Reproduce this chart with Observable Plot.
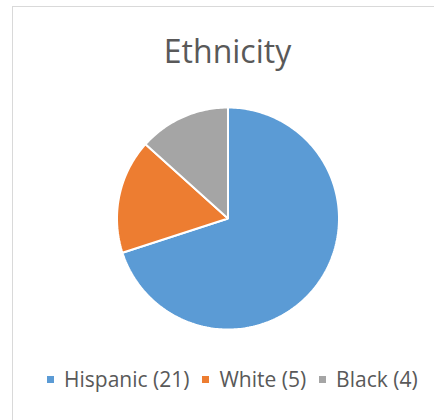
<!DOCTYPE html>
<html>
<head>
<meta charset="utf-8">
<script src="https://cdn.jsdelivr.net/npm/d3@7"></script>
<script src="https://cdn.jsdelivr.net/npm/@observablehq/plot@0.6"></script>
<style>
  html, body { margin: 0; padding: 0; background: #fff; }
  #wrap { position: relative; width: 434px; height: 420px; overflow: hidden; font-family: "Open Sans", sans-serif; }
  #frame { position: absolute; left: 12px; top: 6px; width: 440px; height: 440px; border: 1.5px solid #d9d9d9; box-sizing: border-box; }
  #chart { position: absolute; left: 0; top: 0; }
  #title { position: absolute; left: 0; width: 455px; top: 35px; text-align: center; font-size: 32px; line-height: 32px; color: #595959; }
  #legend { position: absolute; left: 47px; top: 369px; display: flex; align-items: center; font-size: 21px; line-height: 21px; color: #595959; white-space: nowrap; }
  .item { display: flex; align-items: center; margin-right: 13px; }
  .sw { width: 7px; height: 7px; margin-right: 10px; }
</style>
</head>
<body>
<div id="wrap">
  <div id="frame"></div>
  <div id="chart"></div>
  <div id="title"></div>
  <div id="legend"></div>
</div>
<script>
const title = "Ethnicity";
const categories = ["Hispanic", "White", "Black"];
const counts = [21, 5, 4];
const colors = ["#5B9BD5", "#ED7D31", "#A5A5A5"];

const data = categories.map((c, i) => ({name: c, value: counts[i]}));
const arcs = d3.pie().sort(null).value(d => d.value).startAngle(0).endAngle(2 * Math.PI)(data);

// polygon outline for each slice: centre, then points along its arc
const pts = [];
for (const a of arcs) {
  const name = a.data.name;
  pts.push({name, x: 0, y: 0});
  const steps = Math.max(2, Math.ceil((a.endAngle - a.startAngle) / (Math.PI / 180)));
  for (let k = 0; k <= steps; k++) {
    const t = a.startAngle + (a.endAngle - a.startAngle) * k / steps;
    pts.push({name, x: Math.sin(t), y: Math.cos(t)});
  }
}

const cx = 227.5, cy = 218, r = 111;
const chart = Plot.plot({
  width: 434,
  height: 420,
  margin: 0,
  style: {background: "transparent"},
  x: {domain: [-1, 1], range: [cx - r, cx + r], axis: null},
  y: {domain: [-1, 1], range: [cy + r, cy - r], axis: null},
  color: {domain: categories, range: colors},
  marks: [
    Plot.line(pts, {x: "x", y: "y", z: "name", fill: "name", stroke: "white", strokeWidth: 2, strokeLinejoin: "miter", curve: "linear-closed"})
  ]
});
document.getElementById("chart").appendChild(chart);
document.getElementById("title").textContent = title;

const leg = document.getElementById("legend");
categories.forEach((c, i) => {
  const it = document.createElement("div");
  it.className = "item";
  const sw = document.createElement("div");
  sw.className = "sw";
  sw.style.background = colors[i];
  const tx = document.createElement("span");
  tx.textContent = `${c} (${counts[i]})`;
  it.appendChild(sw); it.appendChild(tx);
  leg.appendChild(it);
});
</script>
</body>
</html>
